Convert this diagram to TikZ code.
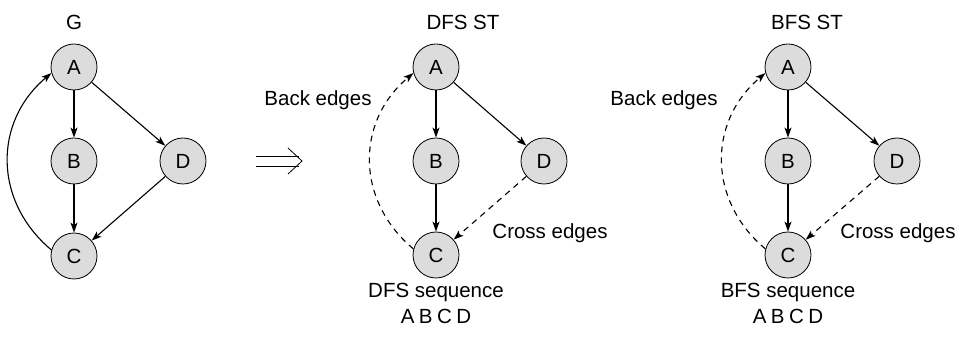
\documentclass[tikz,border=0pt]{standalone}
\usepackage{fontspec}
\setmainfont{Liberation Sans}
\usetikzlibrary{arrows.meta}
\begin{document}
\begin{tikzpicture}[x=1pt,y=1pt,
  vtx/.style={circle,draw=black,line width=0.8pt,fill={rgb,255:red,220;green,220;blue,220},minimum size=46pt,inner sep=0pt,font=\fontsize{20.5}{22}\selectfont},
  lbl/.style={font=\fontsize{20.5}{22}\selectfont,inner sep=0pt},
  edge/.style={line width=1.1pt,-{Stealth[length=10pt,width=7pt,inset=2.5pt]}},
  dedge/.style={edge,dash pattern=on 6pt off 5pt},
  backbend/.style={out=140,in=220,looseness=1.1},
  impl/.style={line width=0.8pt}]
\useasboundingbox (0,0) rectangle (962,340);
% Graph G
\node[lbl] (gt) at (74,318) {G};
\node[vtx] (gA) at (74,273) {A};
\node[vtx] (gB) at (74,179) {B};
\node[vtx] (gD) at (183,179) {D};
\node[vtx] (gC) at (74,84) {C};
\draw[edge] (gA) -- (gB);
\draw[edge] (gA) -- (gD);
\draw[edge] (gB) -- (gC);
\draw[edge] (gD) -- (gC);
\draw[edge] (gC.165) to[backbend] (gA.195);
% implies
\draw[impl] (256,184) -- (299,184);
\draw[impl] (256,174) -- (299,174);
\draw[impl] (288,192) -- (302,179) -- (288,166);
% DFS
\node[lbl] (dt) at (463,318) {DFS ST};
\node[vtx] (dA) at (436,273) {A};
\node[vtx] (dB) at (436,179) {B};
\node[vtx] (dD) at (544,179) {D};
\node[vtx] (dC) at (436,85) {C};
\draw[edge] (dA) -- (dB);
\draw[edge] (dA) -- (dD);
\draw[edge] (dB) -- (dC);
\draw[dedge] (dD) -- (dC);
\draw[dedge] (dC.165) to[backbend] (dA.195);
\node[lbl] (dback) at (318,240) {Back edges};
\node[lbl] (dcross) at (550,107) {Cross edges};
\node[lbl] (dseq) at (436,48) {DFS sequence};
\node[lbl] (dord) at (436,24) {A\hspace{4.5pt}B\hspace{4.5pt}C\hspace{4.5pt}D};
% BFS
\node[lbl] (bt) at (807,318) {BFS ST};
\node[vtx] (bA) at (788,273) {A};
\node[vtx] (bB) at (788,179) {B};
\node[vtx] (bD) at (897,179) {D};
\node[vtx] (bC) at (788,85) {C};
\draw[edge] (bA) -- (bB);
\draw[edge] (bA) -- (bD);
\draw[edge] (bB) -- (bC);
\draw[dedge] (bD) -- (bC);
\draw[dedge] (bC.165) to[backbend] (bA.195);
\node[lbl] (bback) at (664,240) {Back edges};
\node[lbl] (bcross) at (898,107) {Cross edges};
\node[lbl] (bseq) at (788,48) {BFS sequence};
\node[lbl] (bord) at (788,24) {A\hspace{4.5pt}B\hspace{4.5pt}C\hspace{4.5pt}D};
\end{tikzpicture}
\end{document}
